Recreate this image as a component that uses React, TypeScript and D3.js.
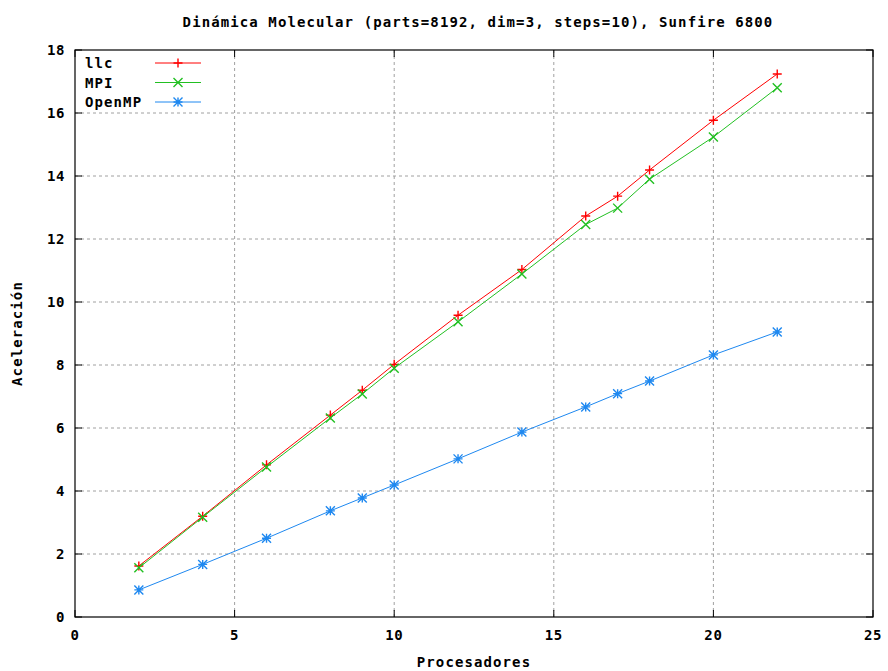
import React from "react";
import * as d3 from "d3";

// Speed-up measurements per number of processors
const processors = [2, 4, 6, 8, 9, 10, 12, 14, 16, 17, 18, 20, 22];
const llcValues = [1.62, 3.2, 4.83, 6.41, 7.2, 8.02, 9.58, 11.03, 12.73, 13.36, 14.19, 15.77, 17.24];
const mpiValues = [1.56, 3.17, 4.76, 6.32, 7.08, 7.9, 9.37, 10.89, 12.46, 12.98, 13.9, 15.24, 16.8];
const openmpValues = [0.86, 1.67, 2.5, 3.37, 3.78, 4.19, 5.02, 5.87, 6.67, 7.09, 7.49, 8.32, 9.05];

const seriesNames = ["llc", "MPI", "OpenMP"];
const xTicks = [0, 5, 10, 15, 20, 25];
const yTicks = [0, 2, 4, 6, 8, 10, 12, 14, 16, 18];

const titleText = "Dinámica Molecular (parts=8192, dim=3, steps=10), Sunfire 6800";
const xLabel = "Procesadores";
const yLabel = "Aceleración";

const W = 888;
const H = 671;
const left = 75;
const right = 873;
const top = 50;
const bottom = 617;

const FONT = "'DejaVu Sans Mono', 'Liberation Mono', monospace";

type Kind = "plus" | "cross" | "star";

function Marker({ cx, cy, kind, color }: { cx: number; cy: number; kind: Kind; color: string }) {
  const s = 4.5;
  const plus = `M${cx - s},${cy}H${cx + s}M${cx},${cy - s}V${cy + s}`;
  const cross = `M${cx - s},${cy - s}L${cx + s},${cy + s}M${cx - s},${cy + s}L${cx + s},${cy - s}`;
  const d = kind === "plus" ? plus : kind === "cross" ? cross : plus + cross;
  return <path d={d} stroke={color} strokeWidth={1.4} fill="none" />;
}

export default function App() {
  const x = d3.scaleLinear().domain([0, 25]).range([left, right]);
  const y = d3.scaleLinear().domain([0, 18]).range([bottom, top]);

  const series = [
    { name: seriesNames[0], values: llcValues, color: "#ff0000", kind: "plus" as Kind },
    { name: seriesNames[1], values: mpiValues, color: "#22c022", kind: "cross" as Kind },
    { name: seriesNames[2], values: openmpValues, color: "#1e88f0", kind: "star" as Kind },
  ];

  const line = d3
    .line<number>()
    .x((_, i) => x(processors[i]))
    .y((v) => y(v));

  const tickLen = 7;

  return (
    <svg
      width={W}
      height={H}
      style={{ position: "fixed", left: 0, top: 0, background: "#fff" }}
      fontFamily={FONT}
    >
      <rect x={0} y={0} width={W} height={H} fill="#fff" />

      {/* grid */}
      {xTicks
        .filter((t) => t > 0 && t < 25)
        .map((t) => (
          <line key={"gx" + t} x1={x(t)} x2={x(t)} y1={top} y2={bottom} stroke="#a0a0a0" strokeDasharray="3,3" />
        ))}
      {yTicks
        .filter((t) => t > 0 && t < 18)
        .map((t) => (
          <line key={"gy" + t} x1={left} x2={right} y1={y(t)} y2={y(t)} stroke="#a0a0a0" strokeDasharray="3,3" />
        ))}

      {/* ticks on all sides */}
      {xTicks.map((t) => (
        <g key={"tx" + t}>
          <line x1={x(t)} x2={x(t)} y1={bottom} y2={bottom - tickLen} stroke="#000" />
          <line x1={x(t)} x2={x(t)} y1={top} y2={top + tickLen} stroke="#000" />
          <text x={x(t)} y={640} textAnchor="middle" fontSize={14} fontWeight="bold" letterSpacing={0.6}>
            {t}
          </text>
        </g>
      ))}
      {yTicks.map((t) => (
        <g key={"ty" + t}>
          <line x1={left} x2={left + tickLen} y1={y(t)} y2={y(t)} stroke="#000" />
          <line x1={right} x2={right - tickLen} y1={y(t)} y2={y(t)} stroke="#000" />
          <text x={65} y={y(t) + 5} textAnchor="end" fontSize={14} fontWeight="bold" letterSpacing={0.6}>
            {t}
          </text>
        </g>
      ))}

      {/* border */}
      <rect x={left} y={top} width={right - left} height={bottom - top} fill="none" stroke="#000" strokeWidth={1.2} />

      {/* series */}
      {series.map((s) => (
        <g key={s.name}>
          <path d={line(s.values) || ""} fill="none" stroke={s.color} strokeWidth={1} />
          {s.values.map((v, i) => (
            <Marker key={i} cx={x(processors[i])} cy={y(v)} kind={s.kind} color={s.color} />
          ))}
        </g>
      ))}

      {/* legend */}
      {series.map((s, i) => {
        const ly = 63 + i * 19.5;
        return (
          <g key={"leg" + s.name}>
            <text x={85} y={ly + 5} fontSize={14} fontWeight="bold" letterSpacing={1.1}>
              {s.name}
            </text>
            <line x1={155} x2={201} y1={ly} y2={ly} stroke={s.color} strokeWidth={1} />
            <Marker cx={178} cy={ly} kind={s.kind} color={s.color} />
          </g>
        );
      })}

      {/* title and axis labels */}
      <text x={478} y={27} textAnchor="middle" fontSize={14} fontWeight="bold" letterSpacing={1.1}>
        {titleText}
      </text>
      <text x={474} y={667} textAnchor="middle" fontSize={14} fontWeight="bold" letterSpacing={1.1}>
        {xLabel}
      </text>
      <text
        transform={`translate(22, ${(top + bottom) / 2}) rotate(-90)`}
        textAnchor="middle"
        fontSize={14}
        fontWeight="bold"
        letterSpacing={1.1}
      >
        {yLabel}
      </text>
    </svg>
  );
}
